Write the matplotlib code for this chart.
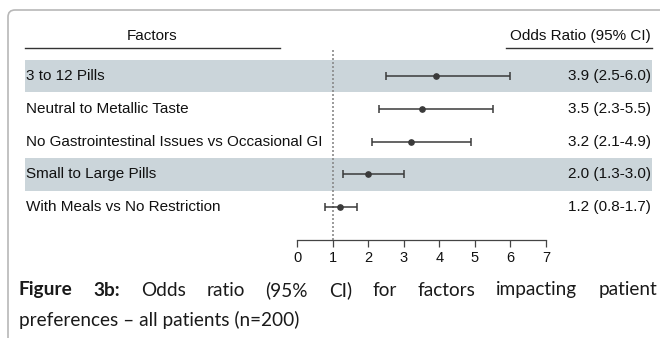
import numpy as np
import matplotlib
matplotlib.use("Agg")
import matplotlib.pyplot as plt
from matplotlib import transforms
from matplotlib.lines import Line2D
from matplotlib.patches import FancyBboxPatch

# data
factors = ["3 to 12 Pills",
           "Neutral to Metallic Taste",
           "No Gastrointestinal Issues vs Occasional GI",
           "Small to Large Pills",
           "With Meals vs No Restriction"]
odds = [3.9, 3.5, 3.2, 2.0, 1.2]
ci_low = [2.5, 2.3, 2.1, 1.3, 0.8]
ci_high = [6.0, 5.5, 4.9, 3.0, 1.7]
shaded_rows = [0, 3]
xticks = [0, 1, 2, 3, 4, 5, 6, 7]

W, H = 660, 338
fig = plt.figure(figsize=(W / 100, H / 100), dpi=100)
fig.patch.set_facecolor("white")

def fx(px):
    return px / W

def fy(py):
    return 1 - py / H

# forest axes: x=0 at 297px, x=7 at 546px, spine at 240px, top at 50px
ax = fig.add_axes([fx(297), fy(240), fx(546 - 297), (240 - 50) / H])
ax.set_xlim(0, 7)
ax.set_ylim(5.0, -0.8)
ax.patch.set_alpha(0)

font = "Liberation Sans"

# shaded bands
for r in shaded_rows:
    ax.axhspan(r - 0.49, r + 0.49, xmin=(25 - 297) / 249, xmax=(652 - 297) / 249,
               color="#cbd5da", lw=0, clip_on=False, zorder=0)

# reference line at 1
ax.axvline(1, color="#8a8a8a", lw=1.2, ls=(0, (1.2, 1.2)), zorder=1)

y = np.arange(len(factors))
ax.errorbar(odds, y,
            xerr=[np.array(odds) - np.array(ci_low), np.array(ci_high) - np.array(odds)],
            fmt="o", color="#3a3a3a", ms=3.8, elinewidth=1.1, capsize=3.2, capthick=1.1,
            zorder=3)

for s in ["top", "right", "left"]:
    ax.spines[s].set_visible(False)
ax.spines["bottom"].set_color("#444444")
ax.spines["bottom"].set_linewidth(0.9)
ax.set_yticks([])
ax.set_xticks(xticks)
ax.tick_params(axis="x", length=5, width=0.9, color="#444444", labelsize=10.5,
               labelcolor="#111111", pad=3)
for lab in ax.get_xticklabels():
    lab.set_fontfamily(font)

# row labels and values
trans = transforms.blended_transform_factory(fig.transFigure, ax.transData)
for i, (name, o, lo, hi) in enumerate(zip(factors, odds, ci_low, ci_high)):
    ax.text(fx(26), i, name, transform=trans, ha="left", va="center",
            fontsize=11, family=font, color="#111111")
    ax.text(fx(651), i, f"{o:.1f} ({lo:.1f}-{hi:.1f})", transform=trans,
            ha="right", va="center", fontsize=11, family=font, color="#111111")

# headers
fig.text(fx(152), fy(36), "Factors", ha="center", va="center", fontsize=11,
         family=font, color="#111111")
fig.add_artist(Line2D([fx(25), fx(280)], [fy(48), fy(48)], color="#333333", lw=1.0))
fig.text(fx(651), fy(36), "Odds Ratio (95% CI)", ha="right", va="center",
         fontsize=11, family=font, color="#111111")
fig.add_artist(Line2D([fx(506), fx(652)], [fy(48), fy(48)], color="#333333", lw=1.0))

# panel border (display coords)
border = FancyBboxPatch((8, -30), 720, 338 - 10 + 30, boxstyle="round,pad=0,rounding_size=7",
                        transform=None, facecolor="none", edgecolor="#b8b8b8", lw=1.2)
fig.add_artist(border)

# caption, first line justified
cap_font = "Lato"
renderer = fig.canvas.get_renderer()

def width_px(txt, size, weight="normal"):
    t = fig.text(0, 0, txt, fontsize=size, family=cap_font, weight=weight)
    w = t.get_window_extent(renderer).width
    t.remove()
    return w

line2 = "preferences \u2013 all patients (n=200)"
cap_size = 12 * 279 / width_px(line2, 12)

words = [("Figure", "bold"), ("3b:", "bold"), ("Odds", "normal"), ("ratio", "normal"),
         ("(95%", "normal"), ("CI)", "normal"), ("for", "normal"), ("factors", "normal"),
         ("impacting", "normal"), ("patient", "normal")]
widths = [width_px(w, cap_size, wt) for w, wt in words]
x0, x1 = 19, 657
gap = (x1 - x0 - sum(widths)) / (len(words) - 1)
x = x0
for (w, wt), wd in zip(words, widths):
    fig.text(fx(x), fy(290), w, ha="left", va="center", fontsize=cap_size,
             family=cap_font, weight=wt, color="#1a1a1a")
    x += wd + gap
fig.text(fx(19), fy(320), line2, ha="left", va="center", fontsize=cap_size,
         family=cap_font, color="#1a1a1a")

fig.savefig("out.png", dpi=100)
